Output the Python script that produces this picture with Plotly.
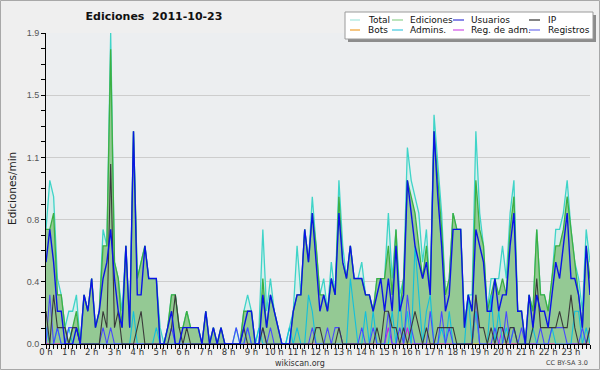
import plotly.graph_objects as go

# ---- data (edits per minute, one value per 10-minute slot, 2011-10-23) ----
slots = list(range(144))
hour_ticks = [0, 6, 12, 18, 24, 30, 36, 42, 48, 54, 60, 66, 72, 78, 84, 90,
              96, 102, 108, 114, 120, 126, 132, 138]
hour_labels = ["0 h", "1 h", "2 h", "3 h", "4 h", "5 h", "6 h", "7 h", "8 h", "9 h",
               "10 h", "11 h", "12 h", "13 h", "14 h", "15 h", "16 h", "17 h",
               "18 h", "19 h", "20 h", "21 h", "22 h", "23 h"]
y_ticks = [0, 0.38, 0.76, 1.14, 1.52, 1.9]
y_labels = ["0.0", "0.4", "0.8", "1.1", "1.5", "1.9"]

total = [0.7, 1.0, 0.9, 0.4, 0.3, 0.1, 0.2, 0.2, 0.3, 0.0, 0.3, 0.2,
         0.4, 0.1, 0.2, 0.7, 0.6, 1.9, 0.5, 0.4, 0.2, 0.6, 0.1, 1.3,
         0.4, 0.5, 0.6, 0.4, 0.4, 0.4, 0.1, 0.0, 0.1, 0.3, 0.3, 0.1,
         0.1, 0.2, 0.1, 0.1, 0.1, 0.0, 0.2, 0.0, 0.1, 0.0, 0.1, 0.0,
         0.0, 0.0, 0.1, 0.0, 0.2, 0.3, 0.2, 0.0, 0.1, 0.7, 0.2, 0.4,
         0.2, 0.1, 0.0, 0.0, 0.1, 0.2, 0.6, 0.3, 0.7, 0.5, 0.9, 0.6,
         0.3, 0.4, 0.2, 0.5, 0.3, 1.0, 0.6, 0.4, 0.6, 0.4, 0.4, 0.5,
         0.3, 0.3, 0.2, 0.4, 0.4, 0.4, 0.8, 0.4, 0.7, 0.3, 0.4, 1.2,
         1.0, 0.9, 0.8, 0.5, 0.7, 0.3, 1.4, 1.1, 0.8, 0.3, 0.4, 0.8,
         0.7, 0.7, 0.1, 0.3, 0.3, 1.3, 0.8, 0.6, 0.2, 0.4, 0.4, 0.4,
         0.6, 0.4, 0.8, 1.0, 0.2, 0.2, 0.0, 0.3, 0.2, 0.7, 0.3, 0.3,
         0.2, 0.4, 0.7, 0.7, 0.8, 1.0, 0.7, 0.5, 0.4, 0.2, 0.7, 0.5]

ediciones = [0.7, 0.7, 0.8, 0.3, 0.3, 0.1, 0.0, 0.1, 0.2, 0.0, 0.3, 0.2,
             0.4, 0.1, 0.2, 0.6, 0.6, 1.8, 0.5, 0.4, 0.1, 0.6, 0.1, 1.3,
             0.4, 0.5, 0.6, 0.4, 0.4, 0.4, 0.0, 0.0, 0.1, 0.3, 0.3, 0.1,
             0.1, 0.2, 0.1, 0.1, 0.1, 0.0, 0.2, 0.0, 0.1, 0.0, 0.1, 0.0,
             0.0, 0.0, 0.0, 0.0, 0.2, 0.2, 0.2, 0.0, 0.0, 0.4, 0.1, 0.3,
             0.2, 0.1, 0.0, 0.0, 0.0, 0.2, 0.3, 0.3, 0.7, 0.5, 0.8, 0.6,
             0.3, 0.3, 0.2, 0.4, 0.3, 0.9, 0.5, 0.4, 0.6, 0.4, 0.4, 0.4,
             0.3, 0.3, 0.2, 0.4, 0.4, 0.4, 0.6, 0.3, 0.7, 0.2, 0.4, 1.0,
             0.9, 0.8, 0.6, 0.4, 0.6, 0.3, 1.3, 1.0, 0.7, 0.3, 0.4, 0.8,
             0.7, 0.7, 0.1, 0.3, 0.2, 1.0, 0.7, 0.6, 0.2, 0.3, 0.4, 0.3,
             0.4, 0.3, 0.7, 0.9, 0.2, 0.2, 0.0, 0.3, 0.2, 0.7, 0.3, 0.3,
             0.2, 0.4, 0.6, 0.6, 0.7, 0.9, 0.7, 0.5, 0.3, 0.1, 0.6, 0.4]

usuarios = [0.5, 0.7, 0.5, 0.2, 0.2, 0.0, 0.0, 0.0, 0.1, 0.0, 0.3, 0.2,
            0.4, 0.1, 0.2, 0.4, 0.5, 0.7, 0.4, 0.2, 0.1, 0.6, 0.1, 1.3,
            0.3, 0.3, 0.6, 0.4, 0.4, 0.4, 0.0, 0.0, 0.1, 0.2, 0.0, 0.0,
            0.1, 0.1, 0.1, 0.1, 0.1, 0.0, 0.2, 0.0, 0.1, 0.0, 0.1, 0.0,
            0.0, 0.0, 0.0, 0.0, 0.1, 0.2, 0.2, 0.0, 0.0, 0.3, 0.1, 0.3,
            0.2, 0.1, 0.0, 0.0, 0.0, 0.2, 0.3, 0.3, 0.7, 0.5, 0.8, 0.5,
            0.2, 0.3, 0.2, 0.4, 0.3, 0.8, 0.5, 0.4, 0.6, 0.4, 0.4, 0.4,
            0.3, 0.3, 0.2, 0.3, 0.4, 0.2, 0.4, 0.2, 0.6, 0.2, 0.3, 1.0,
            0.8, 0.6, 0.5, 0.4, 0.5, 0.3, 1.3, 0.9, 0.6, 0.2, 0.3, 0.7,
            0.7, 0.7, 0.1, 0.3, 0.2, 0.7, 0.6, 0.5, 0.2, 0.2, 0.4, 0.2,
            0.3, 0.3, 0.6, 0.8, 0.2, 0.2, 0.0, 0.3, 0.1, 0.3, 0.2, 0.2,
            0.1, 0.3, 0.5, 0.4, 0.6, 0.8, 0.4, 0.4, 0.3, 0.1, 0.6, 0.3]

ip = [0.2, 0.0, 0.3, 0.1, 0.1, 0.1, 0.0, 0.1, 0.1, 0.0, 0.0, 0.0,
      0.0, 0.0, 0.0, 0.2, 0.1, 1.1, 0.1, 0.2, 0.0, 0.0, 0.0, 0.0,
      0.1, 0.2, 0.0, 0.0, 0.0, 0.0, 0.0, 0.0, 0.0, 0.1, 0.3, 0.1,
      0.0, 0.1, 0.0, 0.0, 0.0, 0.0, 0.0, 0.0, 0.0, 0.0, 0.0, 0.0,
      0.0, 0.0, 0.0, 0.0, 0.1, 0.0, 0.0, 0.0, 0.0, 0.1, 0.0, 0.0,
      0.0, 0.0, 0.0, 0.0, 0.0, 0.0, 0.0, 0.0, 0.0, 0.0, 0.0, 0.1,
      0.1, 0.0, 0.0, 0.0, 0.0, 0.1, 0.0, 0.0, 0.0, 0.0, 0.0, 0.0,
      0.0, 0.0, 0.0, 0.1, 0.0, 0.2, 0.2, 0.1, 0.1, 0.0, 0.1, 0.0,
      0.1, 0.2, 0.1, 0.0, 0.1, 0.0, 0.0, 0.1, 0.1, 0.1, 0.1, 0.1,
      0.0, 0.0, 0.0, 0.0, 0.0, 0.3, 0.1, 0.1, 0.0, 0.1, 0.0, 0.1,
      0.1, 0.0, 0.1, 0.1, 0.0, 0.0, 0.0, 0.0, 0.1, 0.4, 0.1, 0.1,
      0.1, 0.1, 0.1, 0.2, 0.1, 0.1, 0.3, 0.1, 0.0, 0.0, 0.0, 0.1]

bots = [0.0] * 144

admins = [0.1, 0.0, 0.0, 0.1, 0.0, 0.0, 0.1, 0.0, 0.0, 0.0, 0.0, 0.0,
          0.0, 0.0, 0.0, 0.0, 0.0, 0.0, 0.0, 0.0, 0.0, 0.0, 0.0, 0.2,
          0.0, 0.0, 0.0, 0.0, 0.0, 0.1, 0.0, 0.0, 0.0, 0.0, 0.0, 0.0,
          0.0, 0.0, 0.0, 0.0, 0.0, 0.0, 0.0, 0.0, 0.0, 0.0, 0.0, 0.0,
          0.0, 0.0, 0.0, 0.0, 0.0, 0.1, 0.0, 0.0, 0.1, 0.0, 0.0, 0.0,
          0.0, 0.0, 0.0, 0.0, 0.1, 0.0, 0.1, 0.0, 0.0, 0.3, 0.2, 0.0,
          0.0, 0.0, 0.0, 0.0, 0.0, 0.0, 0.0, 0.0, 0.4, 0.2, 0.0, 0.0,
          0.2, 0.0, 0.2, 0.0, 0.0, 0.0, 0.0, 0.2, 0.0, 0.3, 0.0, 0.2,
          0.0, 0.6, 0.3, 0.0, 0.2, 0.3, 0.0, 0.0, 0.1, 0.0, 0.2, 0.0,
          0.0, 0.0, 0.0, 0.3, 0.0, 0.2, 0.0, 0.0, 0.0, 0.3, 0.0, 0.2,
          0.0, 0.1, 0.0, 0.1, 0.0, 0.0, 0.0, 0.0, 0.1, 0.0, 0.0, 0.0,
          0.0, 0.1, 0.0, 0.0, 0.0, 0.0, 0.0, 0.2, 0.2, 0.0, 0.1, 0.0]

reg_adm = [0.0] * 90 + [0.1, 0.0, 0.0, 0.0, 0.0, 0.1,
                        0.0, 0.0, 0.0, 0.0, 0.0, 0.0, 0.0, 0.0, 0.0, 0.0, 0.0, 0.0,
                        0.0, 0.0, 0.0, 0.0, 0.0, 0.2, 0.0, 0.0, 0.0, 0.0, 0.0, 0.0,
                        0.1, 0.0, 0.0, 0.0, 0.0, 0.0, 0.0, 0.0, 0.0, 0.0, 0.0, 0.0,
                        0.0, 0.0, 0.0, 0.0, 0.0, 0.0, 0.0, 0.0, 0.0, 0.0, 0.0, 0.0]

registros = [0.0, 0.3, 0.0, 0.1, 0.0, 0.0, 0.1, 0.1, 0.1, 0.0, 0.0, 0.0,
             0.0, 0.0, 0.0, 0.1, 0.0, 0.1, 0.0, 0.0, 0.0, 0.0, 0.0, 0.0,
             0.0, 0.0, 0.0, 0.0, 0.0, 0.0, 0.0, 0.0, 0.0, 0.1, 0.0, 0.0,
             0.0, 0.0, 0.0, 0.0, 0.0, 0.0, 0.0, 0.0, 0.0, 0.0, 0.0, 0.0,
             0.0, 0.0, 0.1, 0.0, 0.0, 0.1, 0.0, 0.0, 0.0, 0.1, 0.0, 0.1,
             0.0, 0.0, 0.0, 0.0, 0.0, 0.0, 0.0, 0.0, 0.0, 0.0, 0.1, 0.0,
             0.0, 0.0, 0.1, 0.0, 0.1, 0.1, 0.0, 0.0, 0.0, 0.0, 0.0, 0.1,
             0.0, 0.0, 0.1, 0.0, 0.0, 0.0, 0.2, 0.0, 0.0, 0.1, 0.0, 0.3,
             0.1, 0.0, 0.0, 0.0, 0.0, 0.2, 0.0, 0.0, 0.2, 0.0, 0.1, 0.0,
             0.0, 0.0, 0.0, 0.0, 0.0, 0.3, 0.0, 0.0, 0.0, 0.0, 0.1, 0.0,
             0.0, 0.2, 0.0, 0.1, 0.0, 0.1, 0.0, 0.0, 0.0, 0.0, 0.1, 0.0,
             0.0, 0.1, 0.1, 0.1, 0.1, 0.0, 0.0, 0.0, 0.0, 0.1, 0.0, 0.1]

# ---- styles ----
series = [
    # name, values, line colour, legend colour, width, fill
    ("Total", total, "#3fd4c8", "#a6e6de", 1.3, "#d8eeec"),
    ("Ediciones", ediciones, "#3cb043", "#8fd28f", 1.3, "#94c994"),
    ("Bots", bots, "#f0a030", "#f0a030", 1.1, None),
    ("Reg. de adm.", reg_adm, "#c81ee6", "#d050e8", 1.1, None),
    ("Admins.", admins, "#12c0dc", "#40c8e0", 1.1, None),
    ("Registros", registros, "#4848ff", "#7070ee", 1.1, None),
    ("IP", ip, "#3a3a3a", "#333333", 1.1, None),
    ("Usuarios", usuarios, "#0a14e6", "#3a3ad8", 1.4, None),
]

L, R, T, B = 46, 10, 33, 26
W, H = 600, 370
PW, PH = W - L - R, H - T - B


def px(x):
    return (x - L) / PW


def py(y):
    return (H - B - y) / PH


fig = go.Figure()
for name, vals, col, lcol, wid, fillc in series:
    fig.add_trace(go.Scatter(
        x=slots, y=vals, mode="lines", name=name,
        line=dict(color=col, width=wid),
        fill="tozeroy" if fillc else None,
        fillcolor=fillc, showlegend=False, hoverinfo="skip"))

shapes = []
annotations = []

# outer frame
shapes.append(dict(type="rect", xref="paper", yref="paper",
                   x0=px(0.5), x1=px(W - 0.5), y0=py(0.5), y1=py(H - 0.5),
                   line=dict(color="#a8a8a8", width=1), layer="below"))

# legend box with shadow
shapes.append(dict(type="rect", xref="paper", yref="paper",
                   x0=px(348), x1=px(596), y0=py(15), y1=py(42),
                   fillcolor="#8c8c8c", line=dict(width=0)))
shapes.append(dict(type="rect", xref="paper", yref="paper",
                   x0=px(345), x1=px(593), y0=py(12), y1=py(39),
                   fillcolor="white", line=dict(color="#9a9a9a", width=1)))

legend_rows = [["Total", "Ediciones", "Usuarios", "IP"],
               ["Bots", "Admins.", "Reg. de adm.", "Registros"]]
col_swatch = [(350, 360), (392, 403), (453, 464), (529, 540)]
col_text = [366, 408, 469, 546]
row_y = [20, 30]
lookup = {s[0]: s[3] for s in series}
for r, row in enumerate(legend_rows):
    for c, name in enumerate(row):
        shapes.append(dict(type="line", xref="paper", yref="paper",
                           x0=px(col_swatch[c][0]), x1=px(col_swatch[c][1]),
                           y0=py(row_y[r]), y1=py(row_y[r]),
                           line=dict(color=lookup[name], width=1.2)))
        annotations.append(dict(text=name, xref="paper", yref="paper",
                                x=px(col_text[c]), y=py(row_y[r]),
                                xanchor="left", yanchor="middle", showarrow=False,
                                font=dict(family="DejaVu Sans", size=9, color="#111")))

annotations.append(dict(text="Ediciones/min", xref="paper", yref="paper",
                        x=px(12), y=py(189), textangle=-90, showarrow=False,
                        xanchor="center", yanchor="middle",
                        font=dict(family="DejaVu Sans", size=10.5, color="#222")))
annotations.append(dict(text="wikiscan.org", xref="paper", yref="paper",
                        x=px(300), y=py(363), showarrow=False,
                        xanchor="center", yanchor="middle",
                        font=dict(family="DejaVu Sans", size=8, color="#333")))
annotations.append(dict(text="CC BY-SA 3.0", xref="paper", yref="paper",
                        x=px(590), y=py(363), showarrow=False,
                        xanchor="right", yanchor="middle",
                        font=dict(family="DejaVu Sans", size=6.5, color="#444")))

fig.update_layout(
    width=W, height=H,
    margin=dict(l=L, r=R, t=T, b=B, pad=0),
    paper_bgcolor="#efefef", plot_bgcolor="#eceef0",
    showlegend=False,
    title=dict(text="Ediciones\u00a0 2011-10-23", x=px(154), xref="paper",
               xanchor="center", y=1 - 16 / H, yanchor="middle",
               font=dict(family="DejaVu Sans", size=11, weight="bold", color="#111")),
    shapes=shapes, annotations=annotations,
    xaxis=dict(range=[0, 143], tickmode="array", tickvals=hour_ticks,
               ticktext=hour_labels, ticks="outside", ticklen=4, tickwidth=1,
               tickcolor="black", showline=True, linecolor="black", linewidth=1,
               showgrid=False, zeroline=False, ticklabelstandoff=-4,
               minor=dict(tickmode="linear", tick0=0, dtick=1, ticks="outside",
                          ticklen=4, tickcolor="black", showgrid=False),
               tickfont=dict(family="DejaVu Sans", size=8.5, color="#333")),
    yaxis=dict(range=[0, 1.9], tickmode="array", tickvals=y_ticks,
               ticktext=y_labels, ticks="outside", ticklen=4, tickwidth=1,
               tickcolor="black", showline=True, linecolor="black", linewidth=1,
               showgrid=True, gridcolor="#cdcdcd", gridwidth=1, zeroline=False,
               minor=dict(tickmode="linear", tick0=0, dtick=0.095, ticks="outside",
                          ticklen=4, tickcolor="black", showgrid=False),
               tickfont=dict(family="Liberation Sans", size=9, color="#555")),
)

fig.write_html("out.html", config={"displayModeBar": False},
               post_script="document.body.style.margin='0px';")
